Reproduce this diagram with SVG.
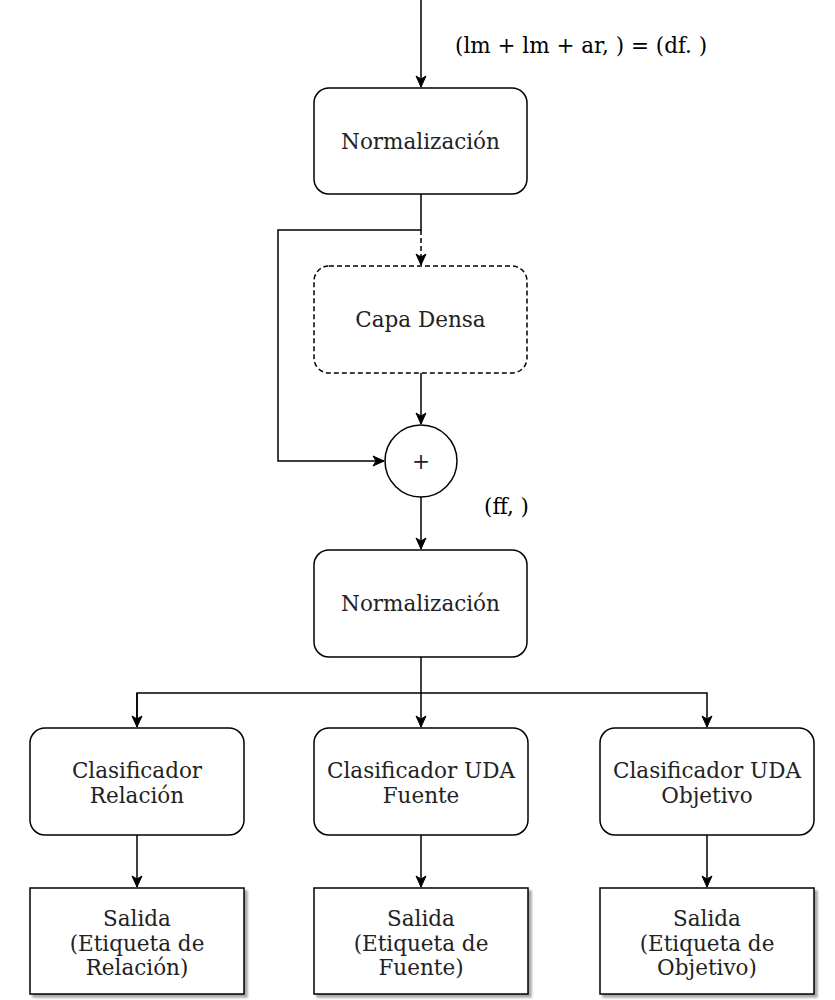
<svg xmlns="http://www.w3.org/2000/svg" width="835" height="1000" viewBox="0 0 835 1000">
<defs>
<marker id="arr" markerWidth="14" markerHeight="14" refX="12" refY="7" orient="auto" markerUnits="userSpaceOnUse">
<path d="M1,2 L12,7 L1,12 L4,7 Z" fill="#000" stroke="#000" stroke-width="1"/>
</marker>
<filter id="sh" x="-10%" y="-10%" width="130%" height="130%">
<feGaussianBlur in="SourceAlpha" stdDeviation="1"/>
<feOffset dx="3" dy="3" result="o"/>
<feComponentTransfer><feFuncA type="linear" slope="0.35"/></feComponentTransfer>
<feMerge><feMergeNode/><feMergeNode in="SourceGraphic"/></feMerge>
</filter>
</defs>
<style>
.box{fill:#fff;stroke:#000;stroke-width:1.5}
.dash{fill:#fff;stroke:#000;stroke-width:1.5;stroke-dasharray:5 3}
.t{font-family:"DejaVu Serif",serif;font-size:21.5px;fill:#222;text-anchor:middle}
.lbl{font-family:"DejaVu Serif",serif;font-size:21.5px;fill:#000}
.c{fill:none;stroke:#000;stroke-width:1.5}
</style>
<rect width="835" height="1000" fill="#fff"/>
<g id="connectors">
<path class="c" d="M421,0 L421,87" marker-end="url(#arr)"/>
<path class="c" d="M421,194 L421,230 L278,230 L278,461 L384,461" marker-end="url(#arr)"/>
<path class="c" d="M421,230 L421,265" stroke-dasharray="5 3" marker-end="url(#arr)"/>
<path class="c" d="M421,373 L421,424" marker-end="url(#arr)"/>
<path class="c" d="M421,497 L421,549" marker-end="url(#arr)"/>
<path class="c" d="M421,657 L421,727" marker-end="url(#arr)"/>
<path class="c" d="M137,727 L137,693 L707,693 L707,727" marker-end="url(#arr)"/>
<path class="c" d="M137,693 L137,727" marker-end="url(#arr)"/>
<path class="c" d="M137,835 L137,887" marker-end="url(#arr)"/>
<path class="c" d="M421,835 L421,887" marker-end="url(#arr)"/>
<path class="c" d="M707,835 L707,887" marker-end="url(#arr)"/>
</g>
<g id="label-top"><text class="lbl" x="455" y="53">(lm + lm + ar, ) = (df. )</text></g>
<g id="label-ff"><text class="lbl" x="484" y="514">(ff, )</text></g>
<g id="norm1"><rect class="box" x="314" y="88" width="213" height="106" rx="15"/><text class="t" x="420.5" y="149">Normalización</text></g>
<g id="dense"><rect class="dash" x="314" y="266" width="213" height="107" rx="15"/><text class="t" x="420.5" y="327">Capa Densa</text></g>
<g id="sum"><circle class="box" cx="421" cy="461" r="36"/><text class="t" x="421" y="469">+</text></g>
<g id="norm2"><rect class="box" x="314" y="550" width="213" height="107" rx="15"/><text class="t" x="420.5" y="611">Normalización</text></g>
<g id="clsRel"><rect class="box" x="30" y="728" width="214" height="107" rx="15"/><text class="t" x="137" y="778">Clasificador</text><text class="t" x="137" y="803">Relación</text></g>
<g id="clsSrc"><rect class="box" x="314" y="728" width="214" height="107" rx="15"/><text class="t" x="421" y="778">Clasificador UDA</text><text class="t" x="421" y="803">Fuente</text></g>
<g id="clsTgt"><rect class="box" x="600" y="728" width="214" height="107" rx="15"/><text class="t" x="707" y="778">Clasificador UDA</text><text class="t" x="707" y="803">Objetivo</text></g>
<g id="outRel"><rect class="box" filter="url(#sh)" x="30" y="888" width="214" height="106"/><text class="t" x="137" y="926">Salida</text><text class="t" x="137" y="951">(Etiqueta de</text><text class="t" x="137" y="975">Relación)</text></g>
<g id="outSrc"><rect class="box" filter="url(#sh)" x="314" y="888" width="214" height="106"/><text class="t" x="421" y="926">Salida</text><text class="t" x="421" y="951">(Etiqueta de</text><text class="t" x="421" y="975">Fuente)</text></g>
<g id="outTgt"><rect class="box" filter="url(#sh)" x="600" y="888" width="214" height="106"/><text class="t" x="707" y="926">Salida</text><text class="t" x="707" y="951">(Etiqueta de</text><text class="t" x="707" y="975">Objetivo)</text></g>
</svg>
